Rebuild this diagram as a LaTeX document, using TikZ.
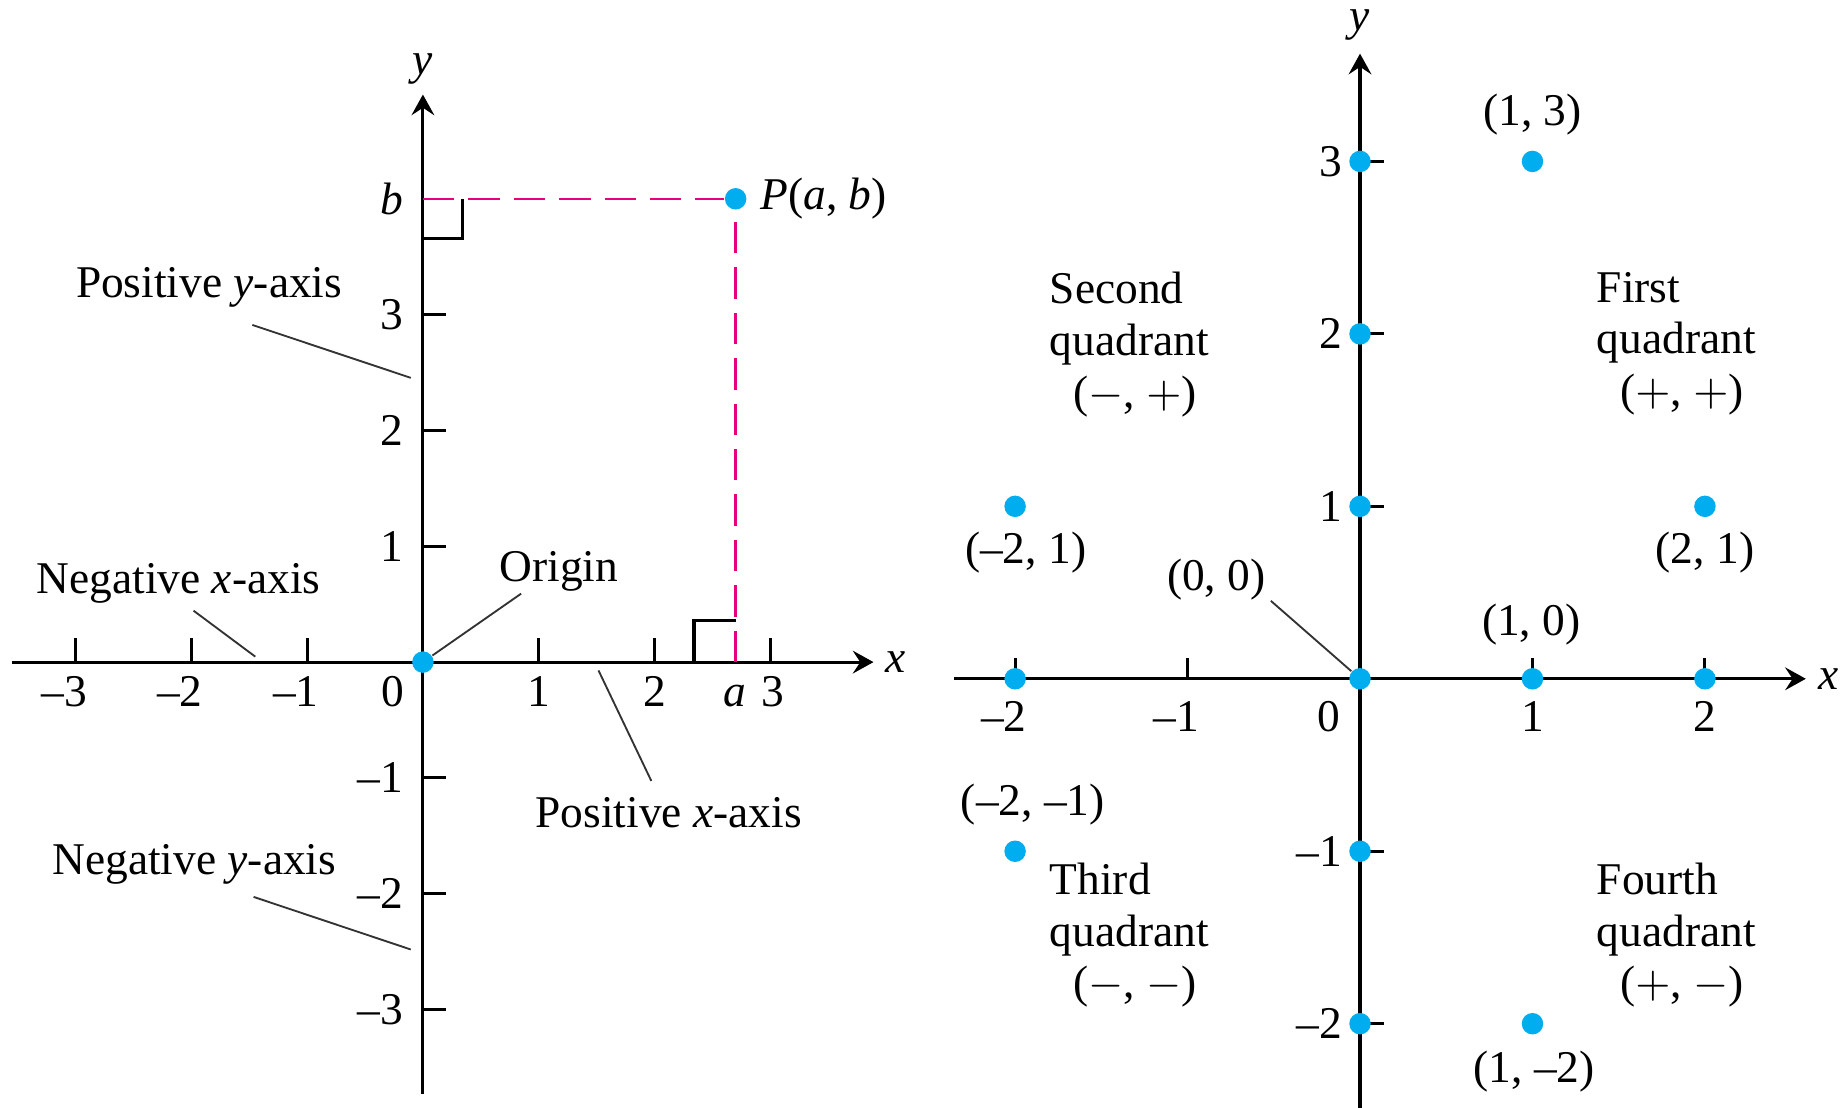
\documentclass[tikz,border=0pt]{standalone}
\usepackage{fontspec}
\setmainfont{Liberation Serif}
\usetikzlibrary{arrows.meta,positioning}
\definecolor{ptblue}{HTML}{00AEEF}
\definecolor{guide}{HTML}{E6007E}
\definecolor{leader}{HTML}{333333}

\begin{document}
\begin{tikzpicture}[
  font=\fontsize{11}{12.5}\selectfont,
  axis/.style={line width=0.75pt,-{Stealth[length=5pt,width=5.5pt,inset=1.8pt]}},
  tick/.style={line width=0.75pt},
  dot/.style={circle,fill=ptblue,inner sep=0pt,minimum size=5.2pt},
  lbl/.style={inner sep=0pt},
  guideline/.style={guide,line width=0.6pt,dash pattern=on 7.6pt off 3.4pt},
  lead/.style={leader,line width=0.45pt},
  quad/.style={align=left,inner sep=0pt,anchor=north west}
]
  \useasboundingbox (0,0) rectangle (15.68,-9.43);

  % the plane with P(a, b)
  \begin{scope}[shift={(3.60,-5.636)},x=0.986cm,y=0.986cm]
    \draw[axis] (-3.55,0) -- (3.89,0);
    \draw[axis] (0,-3.73) -- (0,4.90);
    \node[lbl] (xl) at (4.08,0) {\textit{x}};
    \node[lbl] (yl) at (0,5.12) {\textit{y}};
    \foreach \i in {1,2,3} {
      \draw[tick] (\i,0) -- (\i,0.21);
      \draw[tick] (-\i,0) -- (-\i,0.21);
      \draw[tick] (0,\i) -- (0.2,\i);
      \draw[tick] (0,-\i) -- (0.2,-\i);
      \node[lbl,anchor=base] (xt\i) at (-\i,-0.385) {\llap{--}\i};
      \node[lbl,anchor=east] (yt\i) at (-0.165,\i) {\i};
      \node[lbl,anchor=east] (ytm\i) at (-0.165,-\i) {--\i};
    }
    \node[lbl,anchor=base] (xp1) at (1,-0.385) {1};
    \node[lbl,anchor=base] (xp2) at (2,-0.385) {2};
    \node[lbl,anchor=base] (xp3) at (3.02,-0.385) {3};
    \node[lbl,anchor=base] (x0) at (-0.257,-0.385) {0};
    \node[lbl,anchor=base] (al) at (2.69,-0.385) {\textit{a}};
    \node[lbl,anchor=east] (bl) at (-0.165,4.0) {\textit{b}};

    \draw[tick] (0,3.655) -- (0.34,3.655) -- (0.34,4);
    \draw[tick] (2.34,0) -- (2.34,0.36) -- (2.7,0.36);

    \node[dot] (P) at (2.7,4) {};
    \coordinate (pb) at (0,4);
    \coordinate (pa) at (2.7,0);
    \draw[guideline] (pb) -- (P);
    \draw[guideline] (pa) -- (P);
    \node[lbl,right=3pt of P] (Pl) {\textit{P}(\textit{a}, \textit{b})};

    \node[dot] (O) at (0,0) {};

    \node[lbl] (posy) at (-1.846,3.236) {Positive \textit{y}-axis};
    \node[lbl] (negx) at (-2.110,0.684) {Negative \textit{x}-axis};
    \node[lbl] (orig) at (1.174,0.787) {Origin};
    \node[lbl] (posx) at (2.122,-1.300) {Positive \textit{x}-axis};
    \node[lbl] (negy) at (-1.973,-1.746) {Negative \textit{y}-axis};

    \coordinate (posy-a) at (-1.473,2.911);
    \coordinate (posy-b) at (-0.104,2.454);
    \coordinate (negx-a) at (-1.980,0.444);
    \coordinate (negx-b) at (-1.447,0.047);
    \coordinate (orig-a) at (0.848,0.591);
    \coordinate (posx-a) at (1.516,-0.072);
    \coordinate (posx-b) at (1.972,-1.026);
    \coordinate (negy-a) at (-1.462,-2.027);
    \coordinate (negy-b) at (-0.105,-2.481);
    \draw[lead] (posy-a) -- (posy-b);
    \draw[lead] (negx-a) -- (negx-b);
    \draw[lead] (orig-a) -- (O);
    \draw[lead] (posx-a) -- (posx-b);
    \draw[lead] (negy-a) -- (negy-b);
  \end{scope}

  % the four quadrants
  \begin{scope}[shift={(11.577,-5.778)},x=1.468cm,y=1.468cm]
    \draw[axis] (-2.353,0) -- (2.585,0);
    \draw[axis] (0,-2.7) -- (0,3.625);
    \node[lbl] (xr) at (2.719,0) {\textit{x}};
    \node[lbl] (yr) at (0,3.791) {\textit{y}};
    \foreach \i in {-2,-1,1,2}
      \draw[tick] (\i,0) -- ++(0,0.18cm);
    \foreach \i in {-2,-1,1,2,3}
      \draw[tick] (0,\i) -- ++(0.2cm,0);
    \foreach \i in {1,2} {
      \node[lbl,anchor=base] (rxt\i) at (\i,-0.308) {\i};
      \node[lbl,anchor=base] (rxtm\i) at (-\i,-0.308) {\llap{--}\i};
      \node[lbl,anchor=east] (rytm\i) at (-0.1,-\i) {--\i};
    }
    \foreach \i in {1,2,3}
      \node[lbl,anchor=east] (ryt\i) at (-0.1,\i) {\i};
    \node[lbl,anchor=base] (rx0) at (-0.183,-0.308) {0};

    \foreach \px/\py/\nm in {0/0/o2,0/1/p01,0/2/p02,0/3/p03,0/-1/p0m1,0/-2/p0m2,
        1/0/p10,2/0/p20,-2/0/pm20,1/3/p13,-2/1/pm21,2/1/p21,-2/-1/pm2m1,1/-2/p1m2}
      \node[dot] (\nm) at (\px,\py) {};

    \node[lbl] (l13) at (1.0,3.273) {(1, 3)};
    \node[lbl] (lm21) at (-1.939,0.734) {(--2, 1)};
    \node[lbl] (l21) at (2.0,0.734) {(2, 1)};
    \node[lbl] (l00) at (-0.834,0.574) {(0, 0)};
    \node[lbl] (l10) at (0.993,0.312) {(1, 0)};
    \node[lbl] (lm2m1) at (-1.897,-0.730) {(--2, --1)};
    \node[lbl] (l1m2) at (1.009,-2.279) {(1, --2)};
    \coordinate (l00-a) at (-0.517,0.452);
    \draw[lead] (l00-a) -- (o2);

    \node[quad] (q2) at (-1.803,2.362) {Second\\quadrant\\\hspace*{5.7pt}($-$, $+$)};
    \node[quad] (q1) at (1.368,2.362) {First\\quadrant\\\hspace*{5.7pt}($+$, $+$)};
    \node[quad] (q3) at (-1.803,-1.064) {Third\\quadrant\\\hspace*{5.7pt}($-$, $-$)};
    \node[quad] (q4) at (1.368,-1.064) {Fourth\\quadrant\\\hspace*{5.7pt}($+$, $-$)};
  \end{scope}
\end{tikzpicture}
\end{document}
